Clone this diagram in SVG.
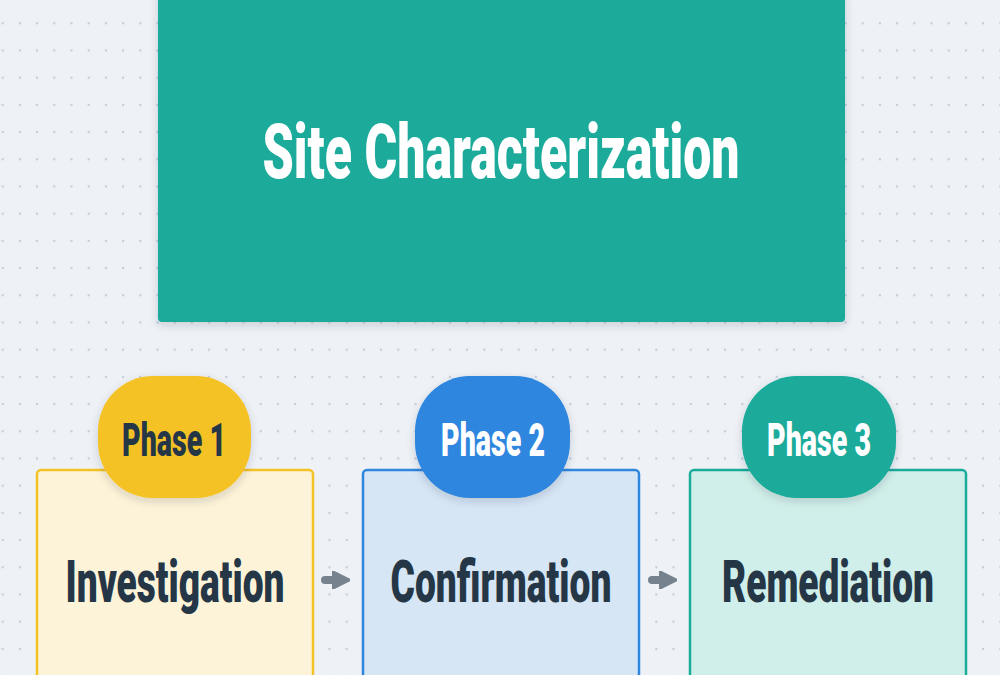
<svg xmlns="http://www.w3.org/2000/svg" width="1000" height="675" viewBox="0 0 1000 675">
<defs>
<pattern id="dots" x="2.7" y="23.3" width="17.2" height="27.2" patternUnits="userSpaceOnUse">
<circle cx="0" cy="0" r="1.2" fill="#c2ccda"/>
<circle cx="17.2" cy="0" r="1.2" fill="#c2ccda"/>
<circle cx="0" cy="27.2" r="1.2" fill="#c2ccda"/>
<circle cx="17.2" cy="27.2" r="1.2" fill="#c2ccda"/>
</pattern>
<filter id="sh" x="-10%" y="-10%" width="120%" height="130%">
<feDropShadow dx="0" dy="3" stdDeviation="4" flood-color="#1e2d3d" flood-opacity="0.18"/>
</filter>
<marker id="ah" viewBox="0 0 10 10" refX="4" refY="5" markerWidth="2.2" markerHeight="2.2" orient="auto" markerUnits="strokeWidth">
<path d="M0,0 L10,5 L0,10 z" fill="#76838f" stroke="#76838f" stroke-width="1.5" stroke-linejoin="round"/>
</marker>
<style>
.title{font-family:Roboto,"Liberation Sans",sans-serif;font-weight:900;fill:#ffffff;text-anchor:middle}
.lbl{font-family:Roboto,"Liberation Sans",sans-serif;font-weight:900;fill:#253746;text-anchor:middle}
.ph{font-family:Roboto,"Liberation Sans",sans-serif;font-weight:900;text-anchor:middle}
.conn{stroke:#76838f;stroke-width:8;stroke-linecap:round;fill:none}
</style>
</defs>
<rect width="1000" height="675" fill="#eef2f6"/>
<rect width="1000" height="675" fill="url(#dots)"/>

<g id="site">
<rect x="158" y="-10" width="687" height="332" rx="4" fill="#1aab9b" filter="url(#sh)"/>
<text class="title" x="501" y="178" font-size="76" textLength="477" lengthAdjust="spacingAndGlyphs">Site Characterization</text>
</g>

<g id="phase1">
<rect x="37" y="470" width="276" height="230" rx="4" fill="#fdf3d8" stroke="#f5c226" stroke-width="2.5"/>
<rect x="98" y="376" width="153" height="122" rx="55" fill="#f5c226" filter="url(#sh)"/>
<text class="ph" x="174" y="456" font-size="46" fill="#253746" textLength="104" lengthAdjust="spacingAndGlyphs">Phase 1</text>
<text class="lbl" x="175" y="602" font-size="60" textLength="219" lengthAdjust="spacingAndGlyphs">Investigation</text>
</g>

<g id="phase2">
<rect x="363" y="470" width="276" height="230" rx="4" fill="#d6e6f5" stroke="#2e86de" stroke-width="2.5"/>
<rect x="415" y="376" width="155" height="122" rx="55" fill="#2e86de" filter="url(#sh)"/>
<text class="ph" x="493" y="456" font-size="46" fill="#ffffff" textLength="104" lengthAdjust="spacingAndGlyphs">Phase 2</text>
<text class="lbl" x="501" y="602" font-size="60" textLength="221" lengthAdjust="spacingAndGlyphs">Confirmation</text>
</g>

<g id="phase3">
<rect x="690" y="470" width="276" height="230" rx="4" fill="#d1efea" stroke="#1aab9b" stroke-width="2.5"/>
<rect x="742" y="376" width="154" height="122" rx="55" fill="#1aab9b" filter="url(#sh)"/>
<text class="ph" x="819" y="456" font-size="46" fill="#ffffff" textLength="104" lengthAdjust="spacingAndGlyphs">Phase 3</text>
<text class="lbl" x="828" y="602" font-size="60" textLength="212" lengthAdjust="spacingAndGlyphs">Remediation</text>
</g>

<g id="connectors">
<path class="conn" d="M325,580 L339,580" marker-end="url(#ah)"/>
<path class="conn" d="M652,580 L666,580" marker-end="url(#ah)"/>
</g>
</svg>
